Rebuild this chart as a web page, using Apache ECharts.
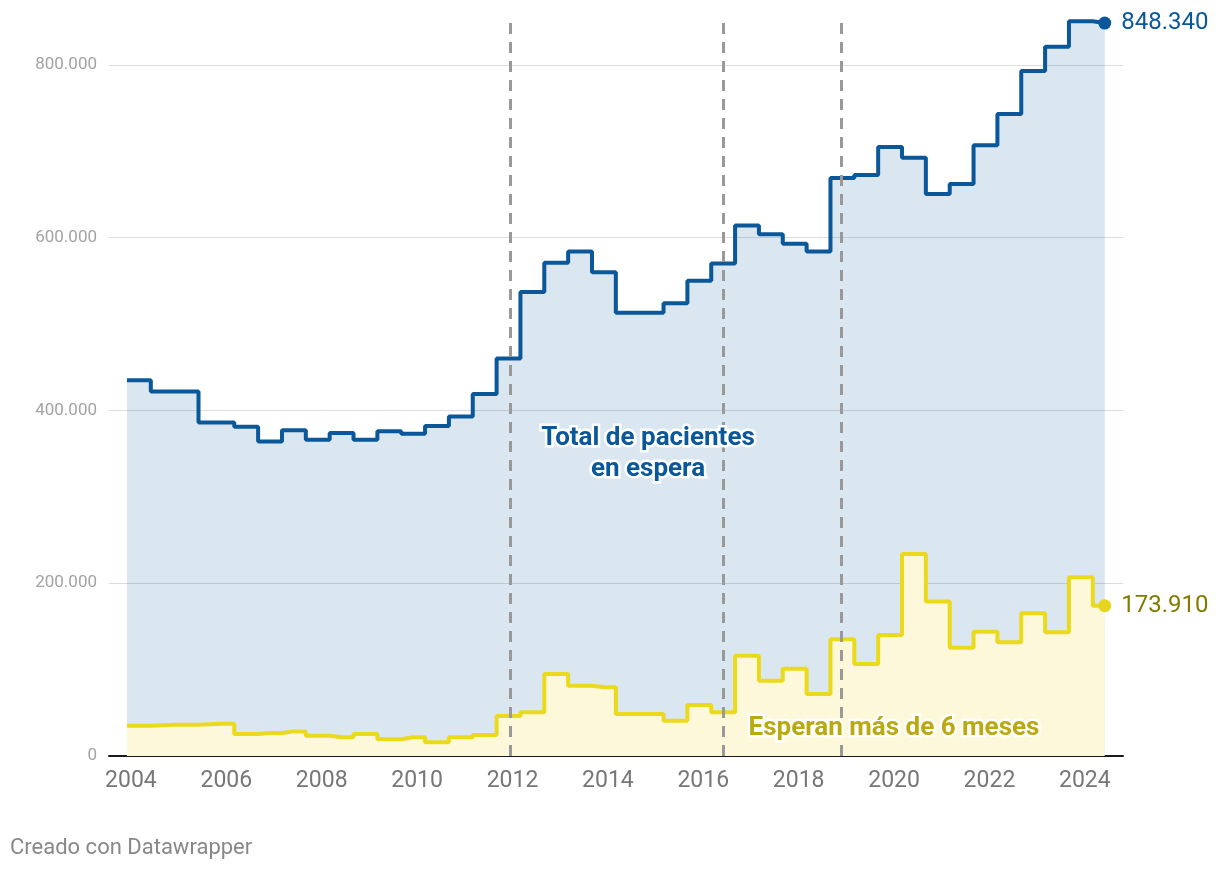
<!DOCTYPE html>
<html>
<head>
<meta charset="utf-8">
<script src="https://cdn.jsdelivr.net/npm/echarts@6/dist/echarts.min.js"></script>
<style>
  html, body { margin: 0; padding: 0; background: #fff; }
  #chart { width: 1220px; height: 872px; }
</style>
</head>
<body>
<div id="chart"></div>
<script>
// periodos (año-mes del corte)
var periods = [
  '2003-12', '2004-12', '2005-12',
  '2006-06', '2006-12', '2007-06', '2007-12', '2008-06', '2008-12',
  '2009-06', '2009-12', '2010-06', '2010-12', '2011-06', '2011-12',
  '2012-06', '2012-12', '2013-06', '2013-12', '2014-06', '2014-12',
  '2015-06', '2015-12', '2016-06', '2016-12', '2017-06', '2017-12',
  '2018-06', '2018-12', '2019-06', '2019-12', '2020-06', '2020-12',
  '2021-06', '2021-12', '2022-06', '2022-12', '2023-06', '2023-12',
  '2024-06'
]
// total de pacientes en espera
var total = [
  435000, 422000, 386000,
  381000, 364000, 377000, 366000, 374000, 366000,
  376000, 373000, 382000, 393000, 419000, 460000,
  537000, 571000, 584000, 560000, 513000, 513000,
  524000, 550000, 570000, 614000, 604000, 593000,
  584000, 669000, 672500, 705000, 692500, 650500,
  662000, 707000, 743000, 793000, 821000, 850500,
  848340
]
// esperan más de 6 meses
var mas6 = [
  35000, 36300, 37400,
  25500, 26600, 28500, 23500, 21600, 25500,
  19300, 21600, 15900, 21600, 24300, 46300,
  50600, 95000, 81400, 79500, 48600, 48600,
  40900, 59000, 50600, 116000, 87200, 101000,
  71800, 135000, 106500, 140000, 233900, 178700,
  125400, 143900, 131600, 165200, 143200, 206900,
  173910
]
// líneas verticales (cambios)
var hitos = [2011.95, 2016.42, 2018.89]
var yearLabels = [2004, 2006, 2008, 2010, 2012, 2014, 2016, 2018, 2020, 2022, 2024]

function toYear (p) {
  var a = p.split('-')
  return Number(a[0]) + (Number(a[1]) - 1) / 12
}
function fmt (v) {
  return String(Math.round(v)).replace(/\B(?=(\d{3})+(?!\d))/g, '.')
}

var totalData = periods.map(function (p, i) { return [toYear(p), total[i]] })
var mas6Data = periods.map(function (p, i) { return [toYear(p), mas6[i]] })
var last = periods.length - 1

var BLUE = '#0a5799'
var YELLOW = '#ebda1c'
var FONT = 'Roboto'

var chart = echarts.init(document.getElementById('chart'))
chart.setOption({
  backgroundColor: '#fff',
  animation: false,
  textStyle: { fontFamily: FONT },
  grid: { left: 109, right: 97, top: 13, bottom: 116, containLabel: false },
  xAxis: {
    type: 'value',
    min: 2003.54,
    max: 2024.8,
    axisLine: { show: true, lineStyle: { color: '#1a1a1a', width: 2 } },
    axisTick: { show: false },
    splitLine: { show: false },
    axisLabel: {
      customValues: yearLabels,
      formatter: function (v) { return String(v) },
      color: '#777',
      fontSize: 23,
      fontFamily: FONT,
      margin: 14
    }
  },
  yAxis: {
    type: 'value',
    min: 0,
    max: 860000,
    interval: 200000,
    axisLine: { show: false },
    axisTick: { show: false },
    splitLine: { show: true, showMaxLine: false, lineStyle: { color: '#dcdcdc', width: 1 } },
    axisLabel: {
      showMaxLabel: false,
      formatter: fmt,
      color: '#a3a3a3',
      fontSize: 17,
      fontFamily: FONT,
      margin: 12
    }
  },
  series: [
    {
      name: 'Total de pacientes en espera',
      type: 'line',
      step: 'middle',
      symbol: 'none',
      z: 2,
      lineStyle: { color: BLUE, width: 4 },
      areaStyle: { color: BLUE, opacity: 0.15, origin: 'start' },
      data: totalData
    },
    {
      name: 'Esperan más de 6 meses',
      type: 'line',
      step: 'middle',
      symbol: 'none',
      z: 3,
      lineStyle: { color: YELLOW, width: 4 },
      areaStyle: { color: '#fdf8da', opacity: 1, origin: 'start' },
      data: mas6Data
    },
    {
      type: 'line',
      z: 5,
      data: [],
      markLine: {
        silent: true,
        symbol: ['none', 'none'],
        label: { show: false },
        lineStyle: { color: '#999', type: [11, 8], width: 3, opacity: 1 },
        data: hitos.map(function (x) {
          return [{ coord: [x, 0] }, { coord: [x, 852000] }]
        })
      }
    },
    {
      type: 'scatter',
      z: 6,
      symbolSize: 13,
      itemStyle: { opacity: 1 },
      data: [
        { value: totalData[last], itemStyle: { color: BLUE, opacity: 1 }, label: { color: BLUE } },
        { value: mas6Data[last], itemStyle: { color: '#e6d51a', opacity: 1 }, label: { color: '#857a00' } }
      ],
      label: {
        show: true,
        position: 'right',
        distance: 10,
        fontSize: 24,
        fontFamily: FONT,
        formatter: function (p) { return fmt(p.value[1]) }
      }
    }
  ],
  graphic: [
    {
      type: 'text', x: 648, y: 454, z: 10,
      style: {
        text: 'Total de pacientes\nen espera',
        fill: BLUE, stroke: '#fff', lineWidth: 5,
        font: 'bold 26px Roboto', align: 'center', verticalAlign: 'middle', lineHeight: 31
      }
    },
    {
      type: 'text', x: 894, y: 728, z: 10,
      style: {
        text: 'Esperan más de 6 meses',
        fill: '#b8aa10', stroke: '#fff', lineWidth: 5,
        font: 'bold 26px Roboto', align: 'center', verticalAlign: 'middle'
      }
    },
    {
      type: 'text', x: 10, y: 848,
      style: {
        text: 'Creado con Datawrapper',
        fill: '#888', font: '22px Roboto', align: 'left', verticalAlign: 'middle'
      }
    }
  ]
})
</script>
</body>
</html>
